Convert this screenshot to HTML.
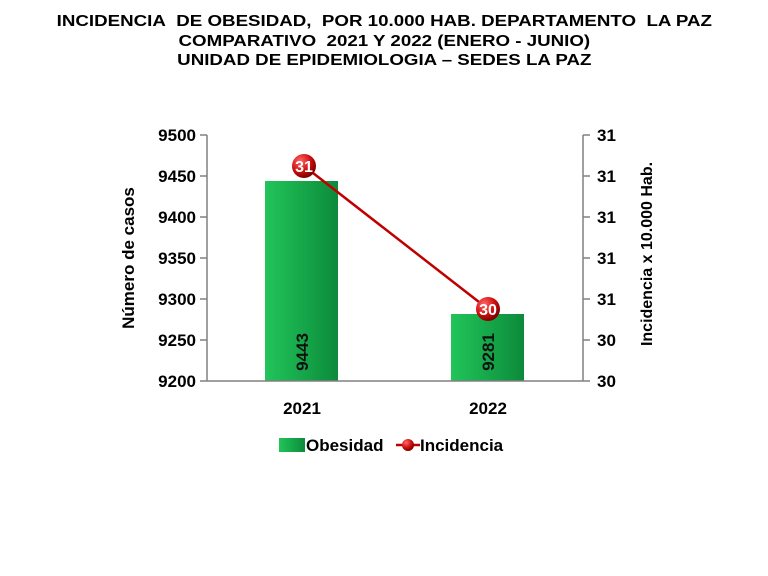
<!DOCTYPE html>
<html><head><style>
body{margin:0;background:#fff;width:768px;height:576px;overflow:hidden;font-family:"Liberation Sans",sans-serif;}
.t{position:absolute;left:0;width:768px;text-align:center;font-weight:bold;font-size:16px;color:#000;line-height:17px;transform:scaleX(1.17);transform-origin:382px 0}
</style></head><body>
<div class="t" style="top:13px">INCIDENCIA&nbsp; DE OBESIDAD,&nbsp; POR 10.000 HAB. DEPARTAMENTO&nbsp; LA PAZ</div>
<div class="t" style="top:33px">COMPARATIVO&nbsp; 2021 Y 2022 (ENERO - JUNIO)</div>
<div class="t" style="top:52px">UNIDAD DE EPIDEMIOLOGIA – SEDES LA PAZ</div>
<svg width="768" height="576" style="position:absolute;left:0;top:0" font-family="Liberation Sans, sans-serif" font-weight="bold">
<defs>
<linearGradient id="g" x1="0" x2="1"><stop offset="0" stop-color="#22c45a"/><stop offset="0.5" stop-color="#16a84a"/><stop offset="1" stop-color="#0d8a3a"/></linearGradient>
<radialGradient id="r" cx="0.35" cy="0.3" r="0.7"><stop offset="0" stop-color="#ff6a6a"/><stop offset="0.6" stop-color="#d01010"/><stop offset="1" stop-color="#800000"/></radialGradient>
</defs>
<rect x="265" y="181" width="73" height="200" fill="url(#g)"/>
<rect x="451" y="314" width="73" height="67" fill="url(#g)"/>
<g stroke="#808080" stroke-width="1.5">
<line x1="207" y1="135" x2="207" y2="381"/>
<line x1="207" y1="381" x2="583" y2="381"/>
<line x1="583" y1="135" x2="583" y2="381"/>
<path d="M200 135h7M200 176h7M200 217h7M200 258h7M200 299h7M200 340h7M200 381h7"/>
<path d="M583 135h7M583 176h7M583 217h7M583 258h7M583 299h7M583 340h7M583 381h7"/>
</g>
<g font-size="17" text-anchor="end" fill="#000">
<text x="196" y="141">9500</text><text x="196" y="182">9450</text><text x="196" y="223">9400</text><text x="196" y="264">9350</text><text x="196" y="305">9300</text><text x="196" y="346">9250</text><text x="196" y="387">9200</text>
</g>
<g font-size="17" fill="#000">
<text x="597" y="141">31</text><text x="597" y="182">31</text><text x="597" y="223">31</text><text x="597" y="264">31</text><text x="597" y="305">31</text><text x="597" y="346">30</text><text x="597" y="387">30</text>
</g>
<text transform="translate(134,258) rotate(-90)" text-anchor="middle" font-size="17">Número de casos</text>
<text transform="translate(652,254) rotate(-90)" text-anchor="middle" font-size="16">Incidencia x 10.000 Hab.</text>
<text transform="translate(308,352) rotate(-90)" text-anchor="middle" font-size="17" fill="#111">9443</text>
<text transform="translate(494,352) rotate(-90)" text-anchor="middle" font-size="17" fill="#111">9281</text>
<g font-size="17" text-anchor="middle"><text x="302" y="414">2021</text><text x="488" y="414">2022</text></g>
<line x1="304" y1="166" x2="488" y2="309" stroke="#c00000" stroke-width="2.5"/>
<circle cx="304" cy="166" r="12" fill="url(#r)"/>
<circle cx="488" cy="309" r="12" fill="url(#r)"/>
<g font-size="16" fill="#fff" text-anchor="middle"><text x="304" y="172">31</text><text x="488" y="315">30</text></g>
<rect x="279" y="438" width="26" height="14" fill="url(#g)"/>
<text x="306" y="451" font-size="17">Obesidad</text>
<line x1="396" y1="445" x2="420" y2="445" stroke="#c00000" stroke-width="2.5"/>
<circle cx="408" cy="445" r="6" fill="url(#r)"/>
<text x="420" y="451" font-size="17">Incidencia</text>
</svg>
</body></html>
